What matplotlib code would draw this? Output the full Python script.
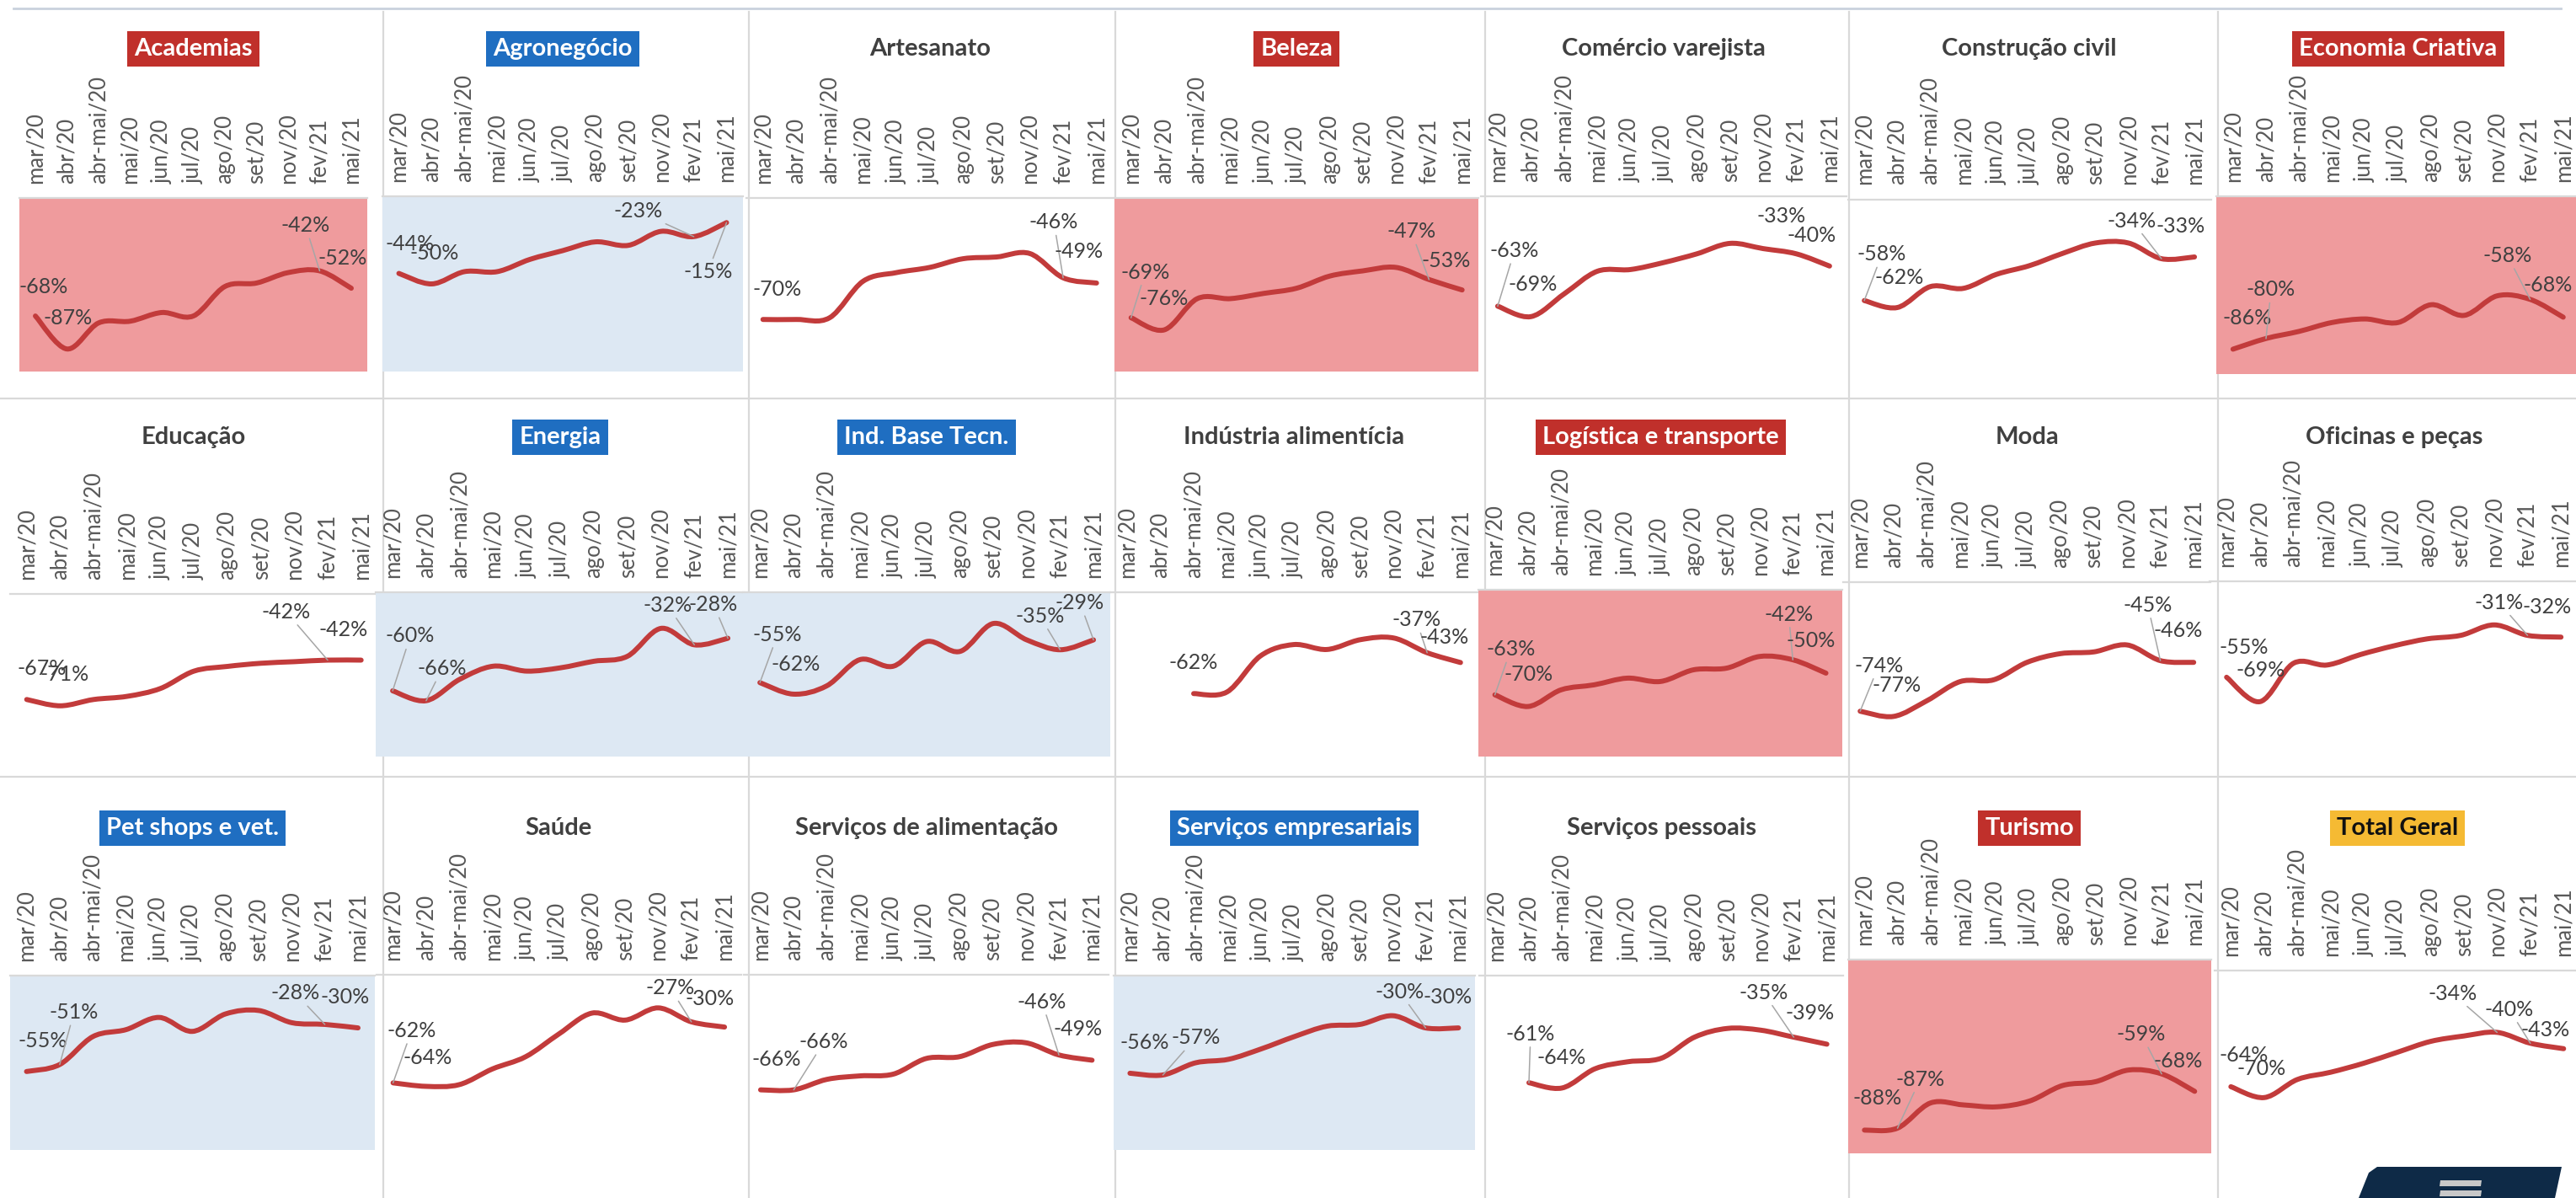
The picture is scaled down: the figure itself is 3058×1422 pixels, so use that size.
import numpy as np
import matplotlib
matplotlib.use("Agg")
import matplotlib.pyplot as plt
from matplotlib.path import Path
from matplotlib.patches import PathPatch, Polygon
from matplotlib.lines import Line2D

plt.rcParams['font.family'] = ['Lato', 'DejaVu Sans']

# ---------------- data ----------------
months = ["mar/20", "abr/20", "abr-mai/20", "mai/20", "jun/20", "jul/20",
          "ago/20", "set/20", "nov/20", "fev/21", "mai/21"]
nan = np.nan
academias = [-68, -87, -72, -71, -66, -68, -51, -49, -43, -42, -52]
agronegocio = [-44, -50, -43, -43, -36, -31, -26, -28, -20, -23, -15]
artesanato = [-70, -70, -69, -48, -43, -40, -35, -34, -32, -46, -49]
beleza = [-69, -76, -58, -58, -55, -52, -45, -42, -40, -47, -53]
comercio = [-63, -69, -56, -43, -42, -38, -33, -27, -30, -33, -40]
construcao = [-58, -62, -50, -51, -43, -38, -31, -25, -25, -34, -33]
economia = [-86, -80, -76, -71, -69, -71, -61, -67, -56, -58, -68]
educacao = [-67, -71, -67, -65, -60, -49, -46, -44, -43, -42, -42]
energia = [-60, -66, -53, -45, -48, -46, -42, -39, -22, -32, -28]
ind_base = [-55, -62, -57, -41, -45, -30, -36, -19, -29, -35, -29]
ind_alim = [nan, nan, -62, -61, -39, -32, -35, -29, -28, -37, -43]
logistica = [-63, -70, -60, -57, -53, -55, -48, -47, -40, -42, -50]
moda = [-74, -77, -68, -57, -56, -46, -41, -40, -36, -45, -46]
oficinas = [-55, -69, -47, -48, -42, -37, -33, -31, -25, -31, -32]
pet = [-55, -51, -35, -31, -24, -32, -22, -20, -27, -28, -30]
saude = [-62, -64, -63, -54, -47, -34, -22, -26, -19, -27, -30]
serv_alim = [-66, -66, -60, -58, -57, -48, -47, -40, -39, -46, -49]
serv_empr = [-56, -57, -50, -48, -42, -35, -29, -28, -23, -30, -30]
serv_pess = [nan, -61, -64, -53, -49, -47, -35, -30, -31, -35, -39]
turismo = [-88, -87, -74, -75, -76, -73, -65, -63, -57, -59, -68]
total = [-64, -70, -60, -56, -51, -45, -39, -36, -34, -40, -43]

titles = ["Academias", "Agronegócio", "Artesanato", "Beleza", "Comércio varejista",
          "Construção civil", "Economia Criativa",
          "Educação", "Energia", "Ind. Base Tecn.", "Indústria alimentícia",
          "Logística e transporte", "Moda", "Oficinas e peças",
          "Pet shops e vet.", "Saúde", "Serviços de alimentação", "Serviços empresariais",
          "Serviços pessoais", "Turismo", "Total Geral"]
series = [academias, agronegocio, artesanato, beleza, comercio, construcao, economia,
          educacao, energia, ind_base, ind_alim, logistica, moda, oficinas,
          pet, saude, serv_alim, serv_empr, serv_pess, turismo, total]
styles = ["red", "blue", "plain", "red", "plain", "plain", "red",
          "plain", "blue", "blue", "plain", "red", "plain", "plain",
          "blue", "plain", "plain", "blue", "plain", "red", "yellow"]

# ---------------- layout (pixels of a 3058x1422 canvas) ----------------
W, H = 3058, 1422
# (x of first point, category step, y of axis line, px per percentage point)
geom = [(42, 37.5, 235, 2.06), (473.5, 38.9, 233, 2.08), (905.7, 39.6, 235, 2.06),
        (1342.7, 39.3, 235, 2.06), (1777.9, 39.4, 233, 2.07), (2213.1, 39.2, 236.7, 2.07),
        (2650.8, 39.2, 233, 2.11),
        (31.7, 39.7, 705, 1.87), (466.1, 39.8, 703, 1.95), (902.1, 39.6, 703, 1.95),
        (1337.8, 39.6, 703, 1.94), (1774.6, 39.3, 700, 1.98), (2208.2, 39.6, 691, 2.07),
        (2643.2, 39.7, 690, 2.07),
        (31.5, 39.35, 1158, 2.07), (466.6, 39.35, 1157, 2.07), (902.9, 39.35, 1157, 2.07),
        (1341.4, 39.0, 1158, 2.07), (1775.7, 39.3, 1158.3, 2.08), (2213.3, 39.2, 1139, 2.3),
        (2648.3, 39.5, 1152.3, 2.15)]
title_y = [58, 519, 983]

# label placements: (index, dx px, dy px (up), leader line)
label_pos = [
    [(0, 10, 35, False), (1, 1, 37, False), (9, -17, 54, True), (10, -10, 36, False)],
    [(0, 13, 35, False), (1, 3, 36, False), (9, -66, 30, True), (10, -22, -58, True)],
    [(0, 17, 36, False), (9, -11, 66, True), (10, -21, 37, False)],
    [(0, 17, 54, True), (1, 0, 37, False), (9, -21, 57, True), (10, -19, 35, False)],
    [(0, 20, 66, True), (1, 2, 38, False), (9, -18, 45, False), (10, -21, 36, False)],
    [(0, 21, 55, True), (1, 2, 36, False), (9, -35, 45, True), (10, -16, 37, False)],
    [(0, 17, 37, False), (1, 6, 58, True), (9, -27, 52, True), (10, -18, 38, False)],
    [(0, 18, 37, False), (1, 5, 37, False), (9, -49, 57, True), (10, -21, 36, False)],
    [(0, 21, 65, True), (1, 19, 38, True), (9, -32, 47, True), (10, -17, 40, True)],
    [(0, 21, 57, True), (1, 3, 35, False), (9, -24, 40, True), (10, -16, 44, True)],
    [(2, 0, 37, False), (9, -13, 39, True), (10, -19, 30, False)],
    [(0, 19, 54, True), (1, 1, 38, False), (9, -5, 54, True), (10, -18, 38, False)],
    [(0, 22, 54, True), (1, 4, 37, False), (9, -15, 66, True), (10, -19, 38, False)],
    [(0, 21, 35, False), (1, 1, 37, False), (9, -34, 39, True), (10, -17, 36, False)],
    [(0, 19, 36, False), (1, 17, 62, True), (9, -35, 37, True), (10, -15, 37, False)],
    [(0, 22, 62, True), (1, 2, 34, False), (9, -25, 40, True), (10, -17, 34, False)],
    [(0, 19, 36, False), (1, 36, 57, True), (9, -20, 63, True), (10, -17, 37, False)],
    [(0, 17, 36, False), (1, 39, 44, True), (9, -31, 43, True), (10, -13, 37, False)],
    [(1, 2, 58, True), (2, -1, 36, False), (9, -36, 53, True), (10, -20, 37, False)],
    [(0, 15, 38, False), (1, 27, 58, True), (9, -24, 47, True), (10, -20, 36, False)],
    [(0, 15, 37, False), (1, -3, 34, False), (8, -53, 46, True), (9, -25, 40, True),
     (10, -22, 22, False)],
]

LINE = "#C23B3B"
SHADE = {"red": "#EF9B9D", "blue": "#DDE8F3"}
TITLE_BG = {"red": "#C0302B", "blue": "#1F6EC1", "yellow": "#F5BA33"}
TITLE_FG = {"red": "white", "blue": "white", "yellow": "#111111", "plain": "#404040"}
SEP = "#D9D9D9"
PT = 72.0 / 100.0  # points per pixel at dpi 100

TICK_FS = 18.5
LABEL_FS = 18
TITLE_FS = 21

fig = plt.figure(figsize=(W / 100, H / 100), dpi=100)
fig.patch.set_facecolor("white")


def fx(x):
    return x / W


def fy(y):
    return 1 - y / H


# separators
for x in [455, 889, 1324, 1763, 2195, 2633]:
    fig.add_artist(Line2D([fx(x), fx(x)], [fy(14), fy(H)], color=SEP, lw=1.6,
                          transform=fig.transFigure, zorder=-5))
for y in [473, 922]:
    fig.add_artist(Line2D([0, 1], [fy(y), fy(y)], color=SEP, lw=1.6,
                          transform=fig.transFigure, zorder=-5))
fig.add_artist(Line2D([fx(16), fx(3040)], [fy(10), fy(10)], color="#C9D1DD", lw=2,
                      transform=fig.transFigure, zorder=-5))


def smooth_path(xs, ys):
    pts = np.column_stack([xs, ys]).astype(float)
    n = len(pts)
    verts = [pts[0]]
    codes = [Path.MOVETO]
    for k in range(n - 1):
        p0 = pts[k - 1] if k > 0 else pts[k]
        p1 = pts[k]
        p2 = pts[k + 1]
        p3 = pts[k + 2] if k + 2 < n else pts[k + 1]
        verts += [p1 + (p2 - p0) / 6.0, p2 - (p3 - p1) / 6.0, p2]
        codes += [Path.CURVE4] * 3
    return Path(verts, codes)


for k, (title, vals, style, (x0, step, top, s), labs) in enumerate(
        zip(titles, series, styles, geom, label_pos)):
    row = k // 7
    h = 100 * s
    ax = fig.add_axes([fx(x0 - step / 2), fy(top + h), 11 * step / W, h / H])
    ax.set_xlim(-0.5, 10.5)
    ax.set_ylim(-100, 0)
    if style in SHADE:
        ax.set_facecolor(SHADE[style])
    else:
        ax.patch.set_alpha(0)
    for sp in ["left", "right", "bottom"]:
        ax.spines[sp].set_visible(False)
    ax.spines["top"].set_color(SEP)
    ax.spines["top"].set_linewidth(1.6)
    ax.set_yticks([])
    ax.xaxis.tick_top()
    ax.set_xticks(range(len(months)))
    ax.set_xticklabels(months, rotation=90, fontsize=TICK_FS, color="#595959")
    ax.tick_params(axis="x", length=0, pad=12.5)

    v = np.array(vals, dtype=float)
    idx = np.arange(len(v))
    ok = ~np.isnan(v)
    path = smooth_path(idx[ok], v[ok])
    ax.add_patch(PathPatch(path, fill=False, facecolor="none", edgecolor=LINE, lw=4.3,
                           capstyle="round", joinstyle="round", zorder=3))

    for (i, dx, dy, leader) in labs:
        txt = f"{int(round(v[i]))}%"
        kw = {}
        if leader:
            kw["arrowprops"] = dict(arrowstyle="-", color="#A6A6A6", lw=1.1,
                                    shrinkA=1, shrinkB=0)
        ax.annotate(txt, xy=(i, v[i]), xytext=(dx * PT, dy * PT),
                    textcoords="offset points", ha="center", va="center",
                    fontsize=LABEL_FS, color="#404040", annotation_clip=False,
                    zorder=5, **kw)

    cx = x0 + 5 * step
    bbox = None
    if style in TITLE_BG:
        bbox = dict(boxstyle="square,pad=0.28", fc=TITLE_BG[style], ec="none")
    fig.text(fx(cx), fy(title_y[row]), title, ha="center", va="center",
             fontsize=TITLE_FS, fontweight="bold", color=TITLE_FG[style], bbox=bbox)

# logo fragment at the bottom right
logo = Polygon([[fx(2800), fy(1422)], [fx(2812), fy(1392)], [fx(2822), fy(1385)],
                [fx(3041), fy(1385)], [fx(3033), fy(1422)]], closed=True,
               transform=fig.transFigure, fc="#0E2A47", ec="none")
fig.add_artist(logo)
for (ya, yb) in [(1401, 1408), (1413, 1420)]:
    fig.add_artist(Polygon([[fx(2896), fy(yb)], [fx(2897), fy(ya)], [fx(2946), fy(ya)],
                            [fx(2945), fy(yb)]], closed=True, transform=fig.transFigure,
                           fc="#C8C8C8", ec="none"))

fig.savefig("out.png", dpi=100, facecolor="white")
